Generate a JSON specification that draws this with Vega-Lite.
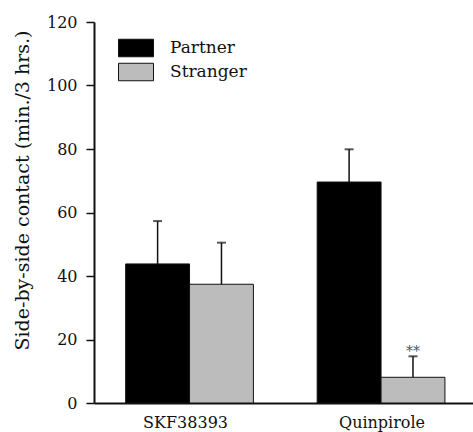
{
  "$schema": "https://vega.github.io/schema/vega-lite/v6.json",
  "autosize": {"type": "none"},
  "padding": {"left": 94, "top": 22, "right": 0, "bottom": 29},
  "width": 379,
  "height": 381,
  "background": "white",
  "config": {
    "view": {"stroke": null},
    "font": "DejaVu Serif",
    "axis": {"labelFont": "DejaVu Serif", "titleFont": "DejaVu Serif", "labelColor": "#111", "titleColor": "#111", "domainColor": "#111", "tickColor": "#111", "grid": false, "titleFontWeight": "normal"},
    "legend": {"labelFont": "DejaVu Serif"}
  },
  "data": {
    "values": [
      {"drug": "SKF38393", "group": "Partner", "value": 43.8, "upper": 57.3, "sig": ""},
      {"drug": "SKF38393", "group": "Stranger", "value": 37.4, "upper": 50.5, "sig": ""},
      {"drug": "Quinpirole", "group": "Partner", "value": 69.6, "upper": 79.9, "sig": ""},
      {"drug": "Quinpirole", "group": "Stranger", "value": 8.1, "upper": 14.7, "sig": "**"}
    ]
  },
  "encoding": {
    "x": {
      "field": "drug", "type": "nominal", "sort": ["SKF38393", "Quinpirole"],
      "scale": {"paddingInner": 0.333, "paddingOuter": 0.156, "align": 0.53},
      "axis": {
        "title": null, "labelAngle": 0, "ticks": false, "labelFontSize": 16,
        "labelPadding": 11, "domainWidth": 2,
        "labelOffset": {"condition": {"test": "datum.value === 'Quinpirole'", "value": 1}, "value": -4}
      }
    },
    "xOffset": {"field": "group", "type": "nominal", "sort": ["Partner", "Stranger"], "scale": {"paddingInner": 0, "paddingOuter": 0}}
  },
  "layer": [
    {
      "mark": {"type": "rule", "color": "#111", "strokeWidth": 1.5},
      "encoding": {
        "y": {"field": "value", "type": "quantitative"},
        "y2": {"field": "upper"}
      }
    },
    {
      "mark": {"type": "tick", "color": "#111", "size": 9, "thickness": 2},
      "encoding": {
        "y": {"field": "upper", "type": "quantitative"}
      }
    },
    {
      "mark": {"type": "bar", "stroke": "#111", "strokeWidth": 1},
      "encoding": {
        "y": {
          "field": "value", "type": "quantitative",
          "scale": {"domain": [0, 120], "nice": false},
          "axis": {
            "title": "Side-by-side contact (min./3 hrs.)", "values": [0, 20, 40, 60, 80, 100, 120],
            "labelFontSize": 16, "titleFontSize": 19, "tickSize": 8, "labelPadding": 9,
            "domainWidth": 2, "tickWidth": 1.5,
            "titleX": -72, "titleY": 168, "titleAlign": "center", "titleBaseline": "middle", "titleAngle": -90
          }
        },
        "fill": {
          "field": "group", "type": "nominal",
          "scale": {"domain": ["Partner", "Stranger"], "range": ["#000000", "#bcbcbc"]},
          "legend": {
            "title": null, "orient": "none", "legendX": 24, "legendY": 16,
            "symbolType": "M-1,-0.5H1V0.5H-1Z", "symbolSize": 1225, "symbolStrokeColor": "#111", "symbolStrokeWidth": 1,
            "clipHeight": 20, "rowPadding": 4, "labelFontSize": 17, "labelColor": "#111", "labelOffset": 16
          }
        }
      }
    },
    {
      "mark": {"type": "text", "baseline": "alphabetic", "dy": 0, "fontSize": 14, "color": "#555", "font": "DejaVu Serif"},
      "encoding": {
        "y": {"field": "upper", "type": "quantitative"},
        "text": {"field": "sig"}
      }
    }
  ]
}
